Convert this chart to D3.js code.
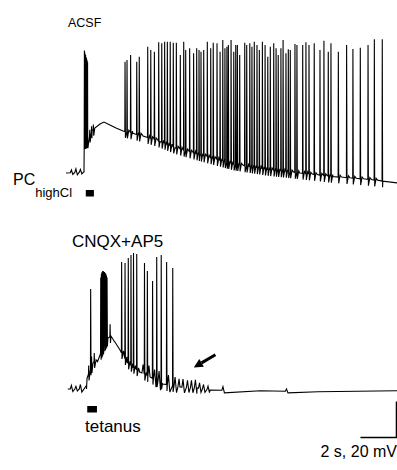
<!DOCTYPE html>
<html>
<head>
<meta charset="utf-8">
<script src="https://cdn.jsdelivr.net/npm/d3@7"></script>
<style>
  body { margin: 0; background: #fff; }
  svg { display: block; }
  text { font-family: "Liberation Sans", Arial, sans-serif; fill: #000; }
</style>
</head>
<body>
<div id="chart"></div>
<script>
// times in s, membrane potential in mV

// ACSF trace
const topEnvT = [0, 1.0, 1.01, 1.22, 1.3, 1.45, 1.6, 1.89, 2.11, 2.44, 2.78, 3.17, 3.72, 4.28, 5.22, 6.06, 7.44, 9.28, 11.17, 13.0, 14.83, 16.72, 17.6, 18.4];
const topEnvV = [-60, -59.4, -47, -46, -40, -36.5, -35, -32.8, -31.7, -33.3, -35, -36.7, -38, -39.5, -42.5, -46, -50, -55, -58, -60, -62, -63.5, -64.5, -65.5];
const topBurstT = [1.0, 1.022, 1.044, 1.066, 1.088, 1.11, 1.132, 1.154, 1.176, 1.198, 1.22, 1.32, 1.42, 1.52];
const topBurstV = [9.4, 8, 7, 6, 5.5, 4.5, 4, 3, 2.5, 1.5, 1, -36, -34, -33];
const topSpikeT = [3.28, 3.39, 3.59, 3.93, 4.07, 4.54, 4.71, 4.91, 5.15, 5.32, 5.48, 5.63, 5.79, 5.96, 6.13, 6.35, 6.54, 6.65, 6.87, 7.09,
  7.26, 7.39, 7.5, 7.65, 7.85, 8.04, 8.18, 8.39, 8.56, 8.71, 8.83, 8.94, 9.02, 9.17, 9.32, 9.43, 9.52, 9.65, 9.93, 10.04,
  10.21, 10.33, 10.46, 10.61, 10.74, 10.91, 11.06, 11.21, 11.35, 11.54, 11.67, 11.79, 11.94, 12.06, 12.22, 12.35, 12.46, 12.72, 12.83, 13.0,
  13.15, 13.33, 13.5, 13.79, 14.11, 14.33, 14.57, 14.72, 15.13, 15.59, 15.94, 16.35, 16.78, 17.13, 17.57];
const topSpikeV = [1.8, 2.8, 5.6, 1.8, 4.6, 10.2, 8.3, 7.4, 12.6, 12.1, 12.9, 12.9, 12.9, 12.4, 12.4, 5.6, 12.9, 8.3, 9.3, 6.5,
  9.3, 8.3, 7.4, 8.3, 12.9, 9.3, 12.4, 12.1, 7.4, 13.9, 9.3, 10.2, 11.1, 13.9, 7.4, 11.1, 11.1, 5.6, 12.4, 11.1,
  12.1, 10.2, 12.9, 11.1, 8.3, 12.9, 11.1, 4.6, 10.2, 12.1, 9.3, 5.6, 9.3, 13.9, 6.5, 8.7, 8.3, 11.7, 11.1, 10.2,
  11.1, 12.6, 11.1, 12.1, 8.3, 13.5, 7.4, 12.1, 7.4, 11.1, 8.9, 9.6, 11.1, 14.3, 14.3];
const topEventT = [0.3, 0.55, 0.8];
const topEventA = [1.5, 2, 1.5];
const topTetanus = [1.1, 1.55];

// CNQX+AP5 trace
const botEnvT = [0.1, 1.14, 1.17, 1.5, 1.89, 2.11, 2.33, 2.5, 2.72, 3.0, 3.39, 3.72, 4.11, 4.67, 5.39, 6.33, 7.28, 8.0, 10.8, 14.0, 18.4];
const botEnvV = [-60, -60, -54, -45.6, -41.1, -36.1, -31.7, -30.6, -33.9, -38.3, -45, -47.8, -50.6, -53.3, -57.2, -58.9, -59.4, -60.6, -61, -61.5, -61];
const botBurstT = [1.26, 1.42, 1.57,
  1.93, 1.965, 2.0, 2.035, 2.07, 2.105, 2.14, 2.175, 2.21, 2.245, 2.28];
const botBurstV = [-47, -42, -40,
  2, 4, 5, 5.5, 5.5, 5, 5, 4.5, 4, 3, 2];
const botSpikeT = [1.15, 1.37, 2.45, 2.72, 3.09, 3.28, 3.46, 3.61, 3.75, 3.93, 4.11, 4.36, 4.52, 4.81, 5.04, 5.29, 5.59, 5.93];
const botSpikeV = [6.1, -4.4, -24, 0.6, 10.6, 10, 12.8, 14.4, 15.6, 15, 11.7, 10, 5.6, 0, 13.3, 14.4, 10.6, 7.2];
const botEventT = [0.3, 0.55, 0.8, 4.28, 4.61, 4.92, 5.17, 5.42, 5.69, 6.06, 6.28, 6.5, 6.75, 6.97, 7.19, 7.42, 7.64, 7.89, 8.72, 12.25];
const botEventA = [2, 1.5, 2.5, 5, 6, 5.5, 6, 6, 5.5, 5, 4.5, 4.5, 4, 4, 4.5, 3, 2.5, 2, 2, 1.3];
const botTetanus = [1.18, 1.72];

// annotations, in trace units
const arrowTip = [7.1, -48];
const arrowTail = [8.3, -41];
const scaleSec = 2, scaleMv = 20;
const scaleCorner = [18.36, -87];

const width = 397, height = 470;

const svg = d3.select('#chart').append('svg')
  .attr('width', width)
  .attr('height', height);

svg.append('rect').attr('width', width).attr('height', height).attr('fill', '#fff');

const x = d3.scaleLinear().domain([0, 18]).range([66, 390]);
const yTop = d3.scaleLinear().domain([-60, 20]).range([173, 29]);
const yBot = d3.scaleLinear().domain([-60, 20]).range([389, 245]);

// turn envelope + spikes + small events into one sampled trace
function buildTrace(envT, envV, spikeT, spikeV, eventT, eventA) {
  const base = d3.scaleLinear().domain(envT).range(envV).clamp(true);
  let feats = [];
  envT.forEach((t, i) => feats.push({ t0: t, pts: [[t, envV[i]]] }));
  spikeT.forEach((t, i) => {
    const b = base(t);
    feats.push({ t0: t - 0.012, pts: [[t - 0.012, b], [t, spikeV[i]], [t + 0.02, b - 3.5], [t + 0.1, b + 1], [t + 0.18, b]] });
  });
  eventT.forEach((t, i) => {
    const b = base(t);
    feats.push({ t0: t - 0.06, pts: [[t - 0.06, base(t - 0.06)], [t, b + eventA[i]], [t + 0.08, base(t + 0.08) - eventA[i] * 0.7]] });
  });
  feats.sort((a, b) => a.t0 - b.t0);
  let pts = [];
  feats.forEach((f, i) => {
    const next = i < feats.length - 1 ? feats[i + 1].t0 : Infinity;
    f.pts.forEach((p, j) => { if (j === 0 || p[0] < next) pts.push(p); });
  });
  return pts;
}

const topPts = buildTrace(topEnvT, topEnvV, topBurstT.concat(topSpikeT), topBurstV.concat(topSpikeV), topEventT, topEventA);
const botPts = buildTrace(botEnvT, botEnvV, botBurstT.concat(botSpikeT), botBurstV.concat(botSpikeV), botEventT, botEventA);

svg.append('path')
  .datum(topPts)
  .attr('d', d3.line().x(d => x(d[0])).y(d => yTop(d[1])))
  .attr('fill', 'none')
  .attr('stroke', '#000')
  .attr('stroke-width', 1.1);

svg.append('path')
  .datum(botPts)
  .attr('d', d3.line().x(d => x(d[0])).y(d => yBot(d[1])))
  .attr('fill', 'none')
  .attr('stroke', '#000')
  .attr('stroke-width', 1.1);

// tetanus bars
svg.append('rect')
  .attr('x', x(topTetanus[0])).attr('width', x(topTetanus[1]) - x(topTetanus[0]))
  .attr('y', 190).attr('height', 6.5).attr('fill', '#000');
svg.append('rect')
  .attr('x', x(botTetanus[0])).attr('width', x(botTetanus[1]) - x(botTetanus[0]))
  .attr('y', 406).attr('height', 6.5).attr('fill', '#000');

// arrow
const tip = [x(arrowTip[0]), yBot(arrowTip[1])];
const tail = [x(arrowTail[0]), yBot(arrowTail[1])];
const len = Math.hypot(tail[0] - tip[0], tail[1] - tip[1]);
const ux = (tail[0] - tip[0]) / len, uy = (tail[1] - tip[1]) / len;
const headL = 9, headW = 4.5;
const hb = [tip[0] + ux * headL, tip[1] + uy * headL];
svg.append('line')
  .attr('x1', hb[0]).attr('y1', hb[1]).attr('x2', tail[0]).attr('y2', tail[1])
  .attr('stroke', '#000').attr('stroke-width', 3);
svg.append('path')
  .attr('d', `M${tip[0]},${tip[1]}L${hb[0] - uy * headW},${hb[1] + ux * headW}L${hb[0] + uy * headW},${hb[1] - ux * headW}Z`)
  .attr('fill', '#000');

// scale bar
const cx = x(scaleCorner[0]), cy = yBot(scaleCorner[1]);
svg.append('path')
  .attr('d', `M${x(scaleCorner[0] - scaleSec)},${cy}H${cx}V${yBot(scaleCorner[1] + scaleMv)}`)
  .attr('fill', 'none').attr('stroke', '#000').attr('stroke-width', 1.5);

// labels
svg.append('text').attr('x', 68).attr('y', 27).attr('font-size', 12.5).text('ACSF');
const pc = svg.append('text').attr('x', 13).attr('y', 185).attr('font-size', 16);
pc.append('tspan').text('PC');
pc.append('tspan').attr('font-size', 13).attr('dy', 12).text('highCl');
svg.append('text').attr('x', 72).attr('y', 246.5).attr('font-size', 17).text('CNQX+AP5');
svg.append('text').attr('x', 85).attr('y', 431.5).attr('font-size', 17).text('tetanus');
svg.append('text').attr('x', 397).attr('y', 457).attr('text-anchor', 'end').attr('font-size', 16).text('2 s, 20 mV');
</script>
</body>
</html>
